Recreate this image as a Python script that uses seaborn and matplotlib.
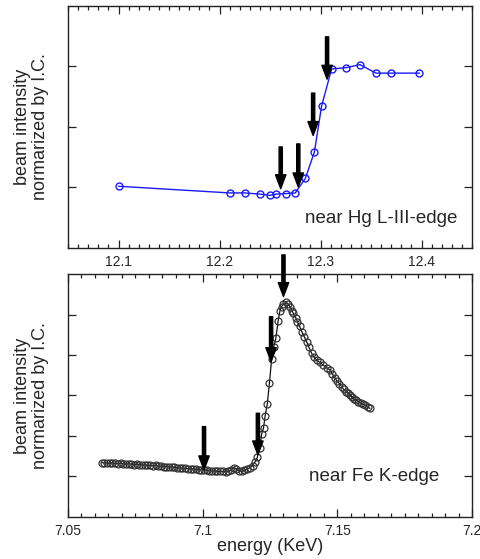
import numpy as np
import pandas as pd
import matplotlib
matplotlib.use("Agg")
import matplotlib.pyplot as plt
import seaborn as sns
from matplotlib.ticker import MultipleLocator, FixedLocator

# ---- Hg L-III edge scan (top panel) ----
hg_energy = [12.100, 12.210, 12.225, 12.240, 12.250, 12.256, 12.266, 12.275,
             12.285, 12.294, 12.301, 12.311, 12.325, 12.339, 12.355, 12.370, 12.398]
hg_intensity = [1.02, 0.91, 0.91, 0.89, 0.87, 0.89, 0.90, 0.91,
                1.15, 1.59, 2.34, 2.96, 2.98, 3.03, 2.89, 2.89, 2.89]
hg_arrow_x = [12.2606, 12.278, 12.2927, 12.3065]
hg_arrow_tip = [0.98, 1.01, 1.86, 2.79]
hg_arrow_tail = [1.67, 1.72, 2.56, 3.49]

# ---- Fe K edge scan (bottom panel) ----
fe_energy = [7.0625, 7.0635, 7.0645, 7.0655, 7.0665, 7.0675, 7.0685, 7.0695, 7.0705, 7.0715,
             7.0725, 7.0735, 7.0745, 7.0755, 7.0765, 7.0775, 7.0785, 7.0795, 7.0805, 7.0815,
             7.0825, 7.0835, 7.0845, 7.0855, 7.0865, 7.0875, 7.0885, 7.0895, 7.0905, 7.0915,
             7.0925, 7.0935, 7.0945, 7.0955, 7.0965, 7.0975, 7.0985, 7.0995, 7.1005, 7.1015,
             7.1025, 7.1035, 7.1045, 7.1055, 7.1065, 7.1075, 7.1085, 7.1095, 7.1105, 7.1115,
             7.1125, 7.1135, 7.1145, 7.1155, 7.1165, 7.1175, 7.1185, 7.1195, 7.1203,
             7.1212, 7.1219, 7.1226, 7.1232, 7.1240, 7.1248, 7.1256, 7.1264, 7.1272, 7.1280,
             7.1287, 7.1293, 7.1300, 7.1309, 7.1317, 7.1324, 7.1331, 7.1337, 7.1345, 7.1352,
             7.1360, 7.1368, 7.1377, 7.1386, 7.1395, 7.1405, 7.1414, 7.1423, 7.1435, 7.1448,
             7.1460, 7.1473, 7.1482, 7.1491, 7.1500, 7.1508, 7.1516, 7.1524, 7.1532, 7.1540,
             7.1547, 7.1555, 7.1563, 7.1571, 7.1578, 7.1586, 7.1594, 7.1603, 7.1612, 7.1621]
fe_intensity = [1.34, 1.33, 1.33, 1.32, 1.33, 1.32, 1.31, 1.32, 1.31, 1.30,
                1.31, 1.30, 1.29, 1.30, 1.29, 1.28, 1.28, 1.27, 1.27, 1.26,
                1.27, 1.25, 1.25, 1.24, 1.24, 1.23, 1.23, 1.22, 1.21, 1.21,
                1.20, 1.20, 1.19, 1.18, 1.18, 1.17, 1.16, 1.16, 1.15, 1.15,
                1.14, 1.13, 1.13, 1.12, 1.12, 1.12, 1.11, 1.12, 1.16, 1.21,
                1.19, 1.14, 1.12, 1.15, 1.18, 1.21, 1.26, 1.36, 1.47,
                1.70, 2.05, 2.20, 2.50, 2.79, 3.32, 3.90, 4.20, 4.43, 4.84,
                5.10, 5.20, 5.27, 5.31, 5.27, 5.20, 5.10, 5.03, 4.93, 4.83,
                4.71, 4.58, 4.46, 4.33, 4.19, 4.04, 3.95, 3.88, 3.82, 3.75,
                3.69, 3.63, 3.53, 3.43, 3.35, 3.29, 3.22, 3.15, 3.09, 3.05,
                3.01, 2.96, 2.91, 2.88, 2.85, 2.82, 2.79, 2.76, 2.72, 2.68]
fe_arrow_x = [7.1005, 7.1205, 7.1254, 7.1300]
fe_arrow_tip = [1.16, 1.53, 3.84, 5.45]
fe_arrow_tail = [2.23, 2.56, 4.95, 6.48]

sns.set_style("ticks")
plt.rcParams['font.family'] = ['Liberation Sans', 'DejaVu Sans']

fig = plt.figure(figsize=(4.81, 5.59), dpi=100)
ax1 = fig.add_axes([0.1414, 0.5564, 0.8399, 0.4329])
ax2 = fig.add_axes([0.1414, 0.0757, 0.8399, 0.4336])

hg = pd.DataFrame({"energy": hg_energy, "intensity": hg_intensity})
fe = pd.DataFrame({"energy": fe_energy, "intensity": fe_intensity})

sns.lineplot(data=hg, x="energy", y="intensity", ax=ax1, color="#1a1aff", lw=1.0,
             marker="o", markersize=5, mfc="none", mec="#1a1aff", mew=1.0, sort=False)
sns.lineplot(data=fe, x="energy", y="intensity", ax=ax2, color="#111111", lw=0.9,
             marker="o", markersize=5, mfc="none", mec="#333333", mew=0.9, sort=False)


def draw_arrows(ax, xs, tips, tails):
    for x, tip, tail in zip(xs, tips, tails):
        ax.annotate("", xy=(x, tip), xytext=(x, tail), annotation_clip=False,
                    arrowprops=dict(width=2.3, headwidth=7.5, headlength=10,
                                    shrink=0, color="black"), zorder=5)


draw_arrows(ax1, hg_arrow_x, hg_arrow_tip, hg_arrow_tail)
draw_arrows(ax2, fe_arrow_x, fe_arrow_tip, fe_arrow_tail)

ax1.set_xlim(12.05, 12.45)
ax1.set_ylim(0, 4)
ax1.xaxis.set_major_locator(FixedLocator([12.1, 12.2, 12.3, 12.4]))
ax1.xaxis.set_minor_locator(MultipleLocator(0.01))
ax1.yaxis.set_major_locator(FixedLocator([1, 2, 3]))
ax1.set_xticklabels(["12.1", "12.2", "12.3", "12.4"])

ax2.set_xlim(7.05, 7.2)
ax2.set_ylim(0, 6)
ax2.xaxis.set_major_locator(FixedLocator([7.05, 7.1, 7.15, 7.2]))
ax2.xaxis.set_minor_locator(MultipleLocator(0.005))
ax2.yaxis.set_major_locator(FixedLocator([1, 2, 3, 4, 5]))
ax2.set_xticklabels(["7.05", "7.1", "7.15", "7.2"])

for ax in (ax1, ax2):
    ax.set_yticklabels([])
    ax.tick_params(which="both", direction="in", top=True, right=True,
                   color="#222222", width=0.9)
    ax.tick_params(which="major", length=5.5, labelsize=10, pad=5)
    ax.tick_params(which="minor", length=3)
    ax.tick_params(axis="y", which="minor", left=False, right=False)
    for s in ax.spines.values():
        s.set_color("#222222")
        s.set_linewidth(1.0)
    ax.set_ylabel("beam intensity\nnormarized by I.C.", fontsize=13,
                  linespacing=1.05, labelpad=9)
    ax.set_xlabel("")

ax2.set_xlabel("energy (KeV)", fontsize=13, labelpad=0)

ax1.text(0.963, 0.12, "near Hg L-III-edge", transform=ax1.transAxes,
         ha="right", va="center", fontsize=13.5)
ax2.text(0.918, 0.165, "near Fe K-edge", transform=ax2.transAxes,
         ha="right", va="center", fontsize=13.5)

fig.savefig("out.png", dpi=100)
